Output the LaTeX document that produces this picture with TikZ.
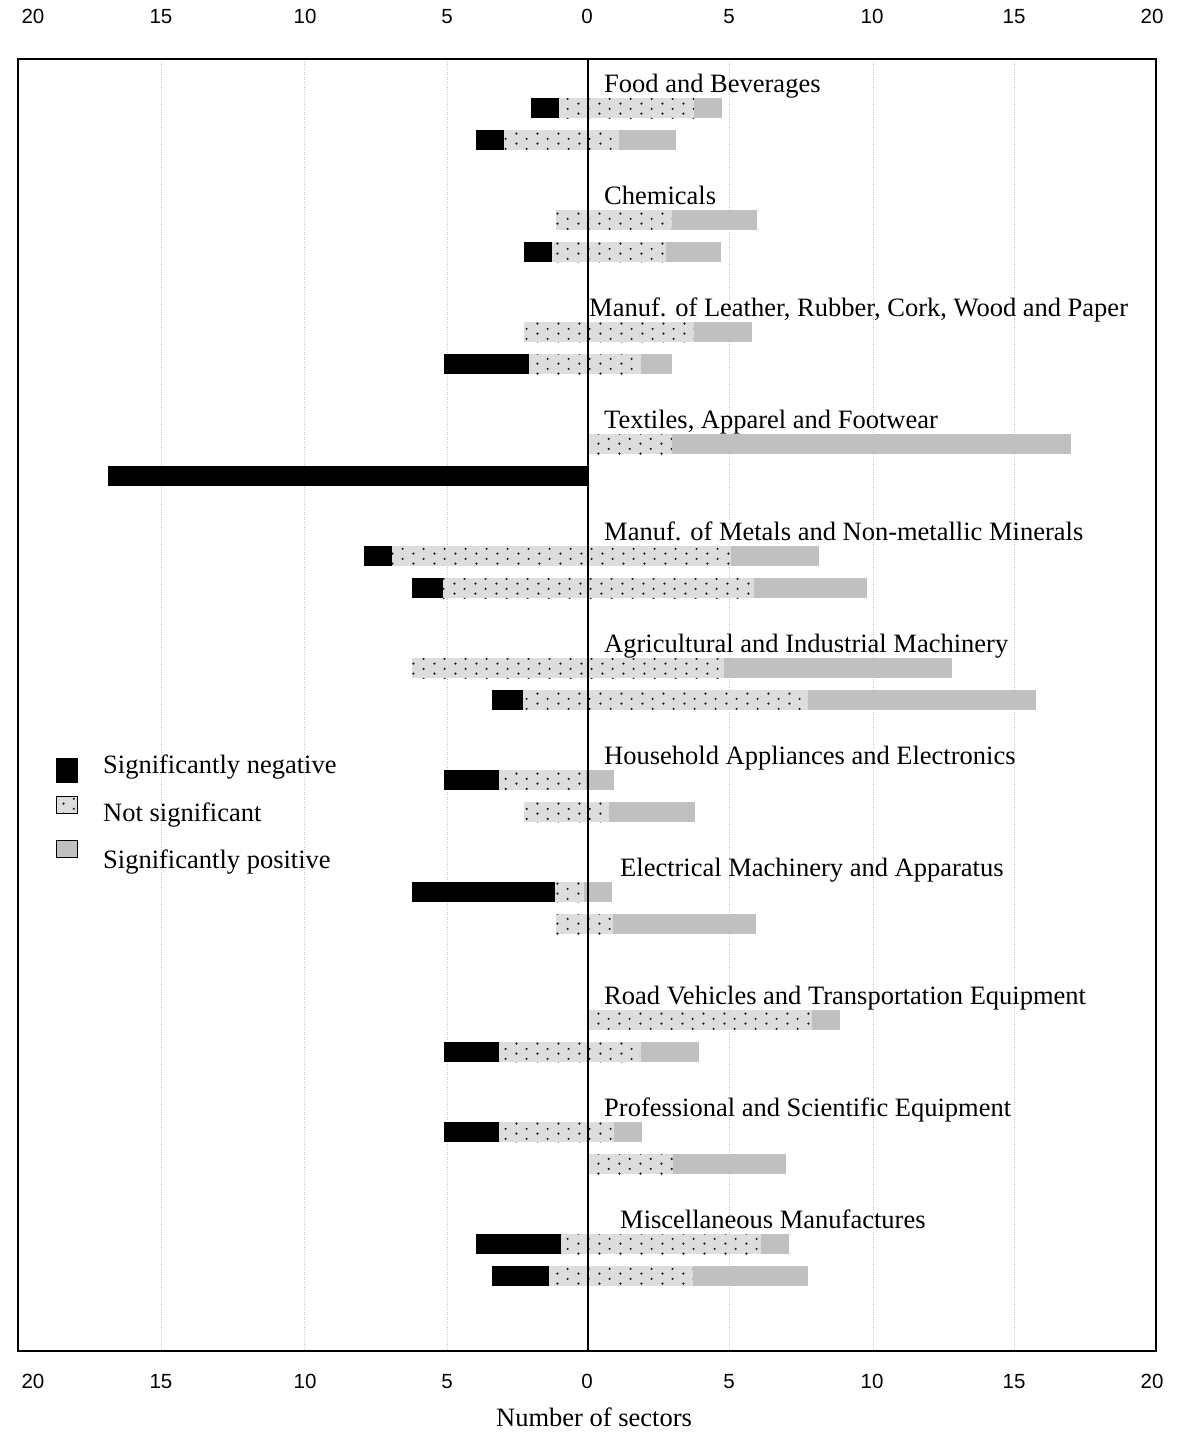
\documentclass[tikz,border=0pt]{standalone}
\usepackage{fontspec}
\setmainfont{Liberation Serif}
\newfontfamily\arialf{Liberation Sans}
\usetikzlibrary{patterns}
\definecolor{nsfill}{RGB}{221,221,221}
\definecolor{posfill}{RGB}{192,192,192}
\definecolor{gridc}{RGB}{200,200,200}
\pgfdeclarepatternformonly{dotlat}{\pgfqpoint{0pt}{0pt}}{\pgfqpoint{20.6pt}{10pt}}{\pgfqpoint{20.6pt}{10pt}}{%
  \pgfpathcircle{\pgfqpoint{1.5pt}{1.5pt}}{1.25pt}%
  \pgfpathcircle{\pgfqpoint{11.8pt}{6.5pt}}{1.25pt}%
  \pgfusepath{fill}}
\tikzset{
  negbar/.style={fill=black},
  nsbar/.style={fill=nsfill, postaction={pattern=dotlat, pattern color=black!90}},
  posbar/.style={fill=posfill},
  gridline/.style={draw=gridc, line width=0.8pt, dash pattern=on 1pt off 1.5pt},
  lab/.style={font=\fontsize{26.5}{30}\selectfont, inner sep=0pt, anchor=base west},
  tick/.style={font=\arialf\fontsize{20.5}{24}\selectfont, inner sep=0pt, anchor=base},
}
\begin{document}
\begin{tikzpicture}[x=1pt,y=-1pt]
\useasboundingbox[fill=white] (0,0) rectangle (1179,1435);
% grid lines
\foreach \gx in {161,304,447,729,873,1014}
  \draw[gridline] (\gx,59) -- (\gx,1351);
% bars: y / black start / dotted start / grey start / grey end
\foreach \by/\a/\b/\c/\d in {
  108/531/559/694/722, 140/476/504/619/676,
  220/556/556/672/757, 252/524/552/666/721,
  332/524/524/694/752, 364/444/529/641/672,
  444/588/588/672/1071, 476/108/588/588/588,
  556/364/392/731/819, 588/412/443/754/867,
  668/412/412/724/952, 700/492/523/808/1036,
  780/444/499/586/614, 812/524/524/609/695,
  892/412/555/584/612, 924/556/556/613/756,
  1020/588/588/812/840, 1052/444/499/641/699,
  1132/444/499/614/642, 1164/588/588/673/786,
  1244/476/561/761/789, 1276/492/549/693/808}{
  \fill[negbar] (\a,\by-10) rectangle (\b,\by+10);
  \fill[nsbar] (\b,\by-10) rectangle (\c,\by+10);
  \fill[posbar] (\c,\by-10) rectangle (\d,\by+10);
}
% category labels
\node[lab] (lfood) at (604,92) {Food and Beverages};
\node[lab] (lchem) at (604,204) {Chemicals};
\node[lab] (lleather) at (589,316) {Manuf. of Leather, Rubber, Cork, Wood and Paper};
\node[lab] (ltext) at (604,428) {Textiles, Apparel and Footwear};
\node[lab] (lmetal) at (604,540) {Manuf. of Metals and Non-metallic Minerals};
\node[lab] (lagri) at (604,652) {Agricultural and Industrial Machinery};
\node[lab] (lhouse) at (604,764) {Household Appliances and Electronics};
\node[lab] (lelec) at (620,876) {Electrical Machinery and Apparatus};
\node[lab] (lroad) at (604,1004) {Road Vehicles and Transportation Equipment};
\node[lab] (lprof) at (604,1116) {Professional and Scientific Equipment};
\node[lab] (lmisc) at (620,1228) {Miscellaneous Manufactures};
% zero line and frame
\draw[line width=2pt] (588,59) -- (588,1351);
\draw[line width=1.5pt] (18,1351) -- (18,59) -- (1156,59) -- (1156,1351);
\draw[line width=2.5pt] (17,1351) -- (1157,1351);
% legend
\fill[black] (56,758) rectangle (78,783);
\draw[line width=1pt, nsbar] (56,796) rectangle (77,813);
\draw[line width=1pt, fill=posfill] (56,840) rectangle (77,857);
\node[lab] (legneg) at (103,773) {Significantly negative};
\node[lab] (legns) at (103,821) {Not significant};
\node[lab] (legpos) at (103,868) {Significantly positive};
% tick labels
\foreach \tx/\tl [count=\i] in {33/20,161/15,305/10,447/5,587/0,729/5,872/10,1014/15,1152/20}{
  \node[tick] (top\i) at (\tx,23.5) {\tl};
  \node[tick] (bot\i) at (\tx,1388) {\tl};
}
\node[lab, anchor=base] (xtitle) at (594,1426) {Number of sectors};
\end{tikzpicture}
\end{document}
